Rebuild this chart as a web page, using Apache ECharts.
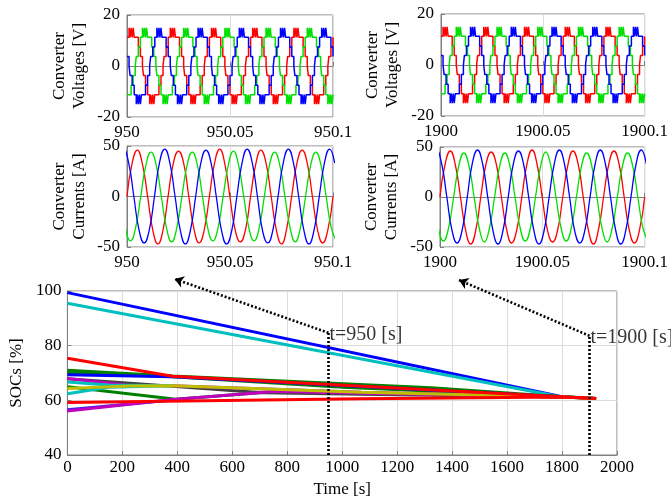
<!DOCTYPE html>
<html>
<head>
<meta charset="utf-8">
<script src="https://cdn.jsdelivr.net/npm/echarts@6/dist/echarts.min.js"></script>
<style>
  html, body { margin: 0; padding: 0; background: #fff; }
  #chart { width: 671px; height: 499px; }
</style>
</head>
<body>
<div id="chart"></div>
<script>
// Zoom windows (start time of each 0.1 s snapshot, seconds)
const windowStarts = [950, 1900];

// Converter phase voltages: level index per 0.5 ms sample (one level = one 3.75 V cell)
const CELL_V = 3.75;
const VOLT_SAMPLE_MS = 0.5;
const voltRed = [
  3,3,4,3,4,
  3,4,3,3,3,3,2,2,1,1,0,-1,-1,-2,-2,-3,-3,-4,-3,-4,-3,-4,-3,-3,-3,-3,-2,-2,-1,-1,0,1,1,2,2,3,3,4,3,4,
  3,4,3,3,3,3,2,2,1,1,0,-1,-1,-2,-2,-3,-3,-4,-3,-4,-3,-4,-3,-3,-3,-3,-2,-2,-1,-1,0,1,1,2,2,3,3,4,3,4,
  3,4,3,3,3,3,2,2,1,1,0,-1,-1,-2,-2,-3,-3,-4,-3,-4,-3,-4,-3,-3,-3,-3,-2,-2,-1,-1,0,1,1,2,2,3,3,4,3,4,
  3,4,3,3,3,3,2,2,1,1,0,-1,-1,-2,-2,-3,-3,-4,-3,-4,-3,-4,-3,-3,-3,-3,-2,-2,-1,-1,0,1,1,2,2,3,3,4,3,4,
  3,4,3,3,3,3,2,2,1,1,0,-1,-1,-2,-2,-3,-3,-4,-3,-4,-3,-4,-3,-3,-3,-3,-2,-2,-1,-1,0,1,1,2,2,
  3
];
const voltGreen = [
  -3,-3,-3,-3,-2,-2,-1,-1,0,1,1,2,2,3,3,4,3,4,
  3,4,3,3,3,3,2,2,1,1,0,-1,-1,-2,-2,-3,-3,-4,-3,-4,-3,-4,-3,-3,-3,-3,-2,-2,-1,-1,0,1,1,2,2,3,3,4,3,4,
  3,4,3,3,3,3,2,2,1,1,0,-1,-1,-2,-2,-3,-3,-4,-3,-4,-3,-4,-3,-3,-3,-3,-2,-2,-1,-1,0,1,1,2,2,3,3,4,3,4,
  3,4,3,3,3,3,2,2,1,1,0,-1,-1,-2,-2,-3,-3,-4,-3,-4,-3,-4,-3,-3,-3,-3,-2,-2,-1,-1,0,1,1,2,2,3,3,4,3,4,
  3,4,3,3,3,3,2,2,1,1,0,-1,-1,-2,-2,-3,-3,-4,-3,-4,-3,-4,-3,-3,-3,-3,-2,-2,-1,-1,0,1,1,2,2,3,3,4,3,4,
  3,4,3,3,3,3,2,2,1,1,0,-1,-1,-2,-2,-3,-3,-4,-3,-4,-3,-4,
  -3
];
const voltBlue = [
  1,1,0,-1,-1,-2,-2,-3,-3,-4,-3,-4,-3,-4,-3,-3,-3,-3,-2,-2,-1,-1,0,1,1,2,2,3,3,4,3,4,
  3,4,3,3,3,3,2,2,1,1,0,-1,-1,-2,-2,-3,-3,-4,-3,-4,-3,-4,-3,-3,-3,-3,-2,-2,-1,-1,0,1,1,2,2,3,3,4,3,4,
  3,4,3,3,3,3,2,2,1,1,0,-1,-1,-2,-2,-3,-3,-4,-3,-4,-3,-4,-3,-3,-3,-3,-2,-2,-1,-1,0,1,1,2,2,3,3,4,3,4,
  3,4,3,3,3,3,2,2,1,1,0,-1,-1,-2,-2,-3,-3,-4,-3,-4,-3,-4,-3,-3,-3,-3,-2,-2,-1,-1,0,1,1,2,2,3,3,4,3,4,
  3,4,3,3,3,3,2,2,1,1,0,-1,-1,-2,-2,-3,-3,-4,-3,-4,-3,-4,-3,-3,-3,-3,-2,-2,-1,-1,0,1,1,2,2,3,3,4,3,4,
  3,4,3,3,3,3,2,2,
  1
];

// Converter phase currents [A], sampled every 2.5 ms from each phase's first sample time (ms)
const CUR_SAMPLE_MS = 2.5;
const curRedStartMs = 0;
const curRed = [
  0,33,46,32,0,-33,-47,-33, 1,33,45,33,0,-32,-46,-33, 0,33,47,32,-1,-33,-45,-33,
  0,32,46,33,0,-33,-47,-32, 1,33,46,33,0,-33,-46,-33, 0
];
const curGreenStartMs = -3.33;
const curGreen = [
  0,-31,-44,-31,0,31,44,31, 0,-31,-45,-31,0,31,44,31, 0,-31,-44,-31,0,31,45,31,
  0,-31,-44,-31,0,31,44,31, 0,-31,-45,-31,0,31,44,31, 0,-31,-44
];
const curBlueStartMs = -6.67;
const curBlue = [
  0,33,47,33,0,-33,-46,-33, 0,34,47,33,0,-33,-47,-33, 0,33,46,33,0,-33,-47,-34,
  0,33,47,33,0,-34,-46,-33, 0,33,47,33,0,-33,-47,-33, 0,33,47,33
];

// Battery state of charge [%] over time [s]
const socBlue    = [[0,99.4],[1800,61.3],[1924,60.7]];
const socCyan    = [[0,95.5],[1790,61.4],[1924,60.7]];
const socGray    = [[0,67.9],[710,62.8],[1070,62.2],[1800,61.2],[1924,60.7]];
const socGreenA  = [[0,71.0],[383,68.9],[1324,64.6],[1800,61.3],[1924,60.7]];
const socGreenB  = [[0,70.2],[383,68.6],[1000,64.8],[1800,61.3]];
const socBlueB   = [[0,69.4],[383,68.6],[1800,61.3]];
const socGreenC  = [[0,65.0],[394,60.4],[756,63.2],[1070,62.6],[1800,61.2]];
const socViolet  = [[0,56.6],[383,60.1]];
const socMagentaB= [[0,56.1],[394,60.4],[756,63.2],[1070,62.6],[1800,61.2]];
const socMagentaA= [[0,68.0],[220,65.5],[383,65.3],[1070,63.0],[1800,61.2]];
const socCyanB   = [[0,66.7],[150,65.6],[383,65.3]];
const socCyanC   = [[0,62.4],[150,64.8],[383,65.3]];
const socYellow  = [[0,64.3],[227,65.2],[383,65.3],[1070,63.0],[1800,61.2],[1924,60.7]];
const socRedA    = [[0,75.4],[383,68.8],[1800,61.3],[1924,60.7]];
const socRedB    = [[0,59.2],[1070,60.6],[1800,61.2],[1924,60.7]];

// Snapshot markers on the SOC plot: [time, SOC] of the marker top and arrow tip
const markTimes = [950, 1900];
const markTops = [84.7, 83.6];
const arrowTips = [[390, 104.4], [1425, 104.0]];
const markLabels = ['t=950 [s]', 't=1900 [s]'];

const FONT = 'Liberation Serif';
const txt = { fontFamily: FONT, fontSize: 17, color: '#000' };
const boxColor = '#7f7f7f';
const gridColor = '#dcdcdc';

function timeSeries(values, startMs, stepMs, t0, scale) {
  return values.map((v, i) => [t0 + (startMs + i * stepMs) / 1000, v * scale]);
}

const grids = [
  { left: 127, top: 15, width: 206, height: 102 },
  { left: 441, top: 14, width: 205, height: 102 },
  { left: 127, top: 146, width: 206, height: 101 },
  { left: 440, top: 147, width: 206, height: 100 },
  { left: 64, top: 291, width: 553, height: 165 }
].map(g => Object.assign({ show: true, borderColor: boxColor, borderWidth: 1, backgroundColor: '#fff' }, g));

function xAxisFor(gridIndex, t0) {
  return {
    type: 'value', gridIndex, min: t0, max: t0 + 0.1, interval: 0.05,
    axisLine: { show: true, lineStyle: { color: boxColor } },
    axisTick: { show: true, inside: true, length: 4, lineStyle: { color: boxColor } },
    splitLine: { show: true, lineStyle: { color: gridColor } },
    axisLabel: Object.assign({ margin: 7, showMinLabel: true, showMaxLabel: true,
      formatter: v => String(+v.toFixed(2)) }, txt)
  };
}
function yAxisFor(gridIndex, lim, name, gap) {
  return {
    type: 'value', gridIndex, min: -lim, max: lim, interval: lim,
    name, nameLocation: 'middle', nameGap: gap, nameRotate: 90,
    nameTextStyle: Object.assign({ lineHeight: 20 }, txt),
    axisLine: { show: true, lineStyle: { color: boxColor } },
    axisTick: { show: true, inside: true, length: 4, lineStyle: { color: boxColor } },
    splitLine: { show: true, lineStyle: { color: gridColor } },
    axisLabel: Object.assign({ margin: 7 }, txt)
  };
}

const xAxes = [
  xAxisFor(0, windowStarts[0]), xAxisFor(1, windowStarts[1]),
  xAxisFor(2, windowStarts[0]), xAxisFor(3, windowStarts[1]),
  {
    type: 'value', gridIndex: 4, min: 0, max: 2000, interval: 200,
    name: 'Time [s]', nameLocation: 'middle', nameGap: 26, nameTextStyle: txt,
    axisLine: { show: true, lineStyle: { color: boxColor } },
    axisTick: { show: true, inside: true, length: 4, lineStyle: { color: boxColor } },
    splitLine: { show: true, lineStyle: { color: gridColor } },
    axisLabel: Object.assign({ margin: 4, formatter: v => String(v) }, txt)
  }
];
const yAxes = [
  yAxisFor(0, 20, 'Converter\nVoltages [V]', 37),
  yAxisFor(1, 20, 'Converter\nVoltages [V]', 38),
  yAxisFor(2, 50, 'Converter\nCurrents [A]', 37),
  yAxisFor(3, 50, 'Converter\nCurrents [A]', 38),
  {
    type: 'value', gridIndex: 4, min: 40, max: 100, interval: 20,
    name: 'SOCs [%]', nameLocation: 'middle', nameGap: 36, nameRotate: 90, nameTextStyle: txt,
    axisLine: { show: true, lineStyle: { color: boxColor } },
    axisTick: { show: true, inside: true, length: 4, lineStyle: { color: boxColor } },
    splitLine: { show: true, lineStyle: { color: gridColor } },
    axisLabel: Object.assign({ margin: 6 }, txt)
  }
];

const series = [];
const phaseColors = { red: '#ff0000', green: '#00e000', blue: '#0000ff' };

windowStarts.forEach((t0, w) => {
  [[voltRed, 'red'], [voltGreen, 'green'], [voltBlue, 'blue']].forEach(([vals, c]) => {
    series.push({
      type: 'line', xAxisIndex: w, yAxisIndex: w, step: 'end', showSymbol: false,
      data: timeSeries(vals, 0, VOLT_SAMPLE_MS, t0, CELL_V),
      lineStyle: { color: phaseColors[c], width: 1.5 }, itemStyle: { color: phaseColors[c] }
    });
  });
  [[curRed, curRedStartMs, 'red'], [curGreen, curGreenStartMs, 'green'], [curBlue, curBlueStartMs, 'blue']]
    .forEach(([vals, s, c]) => {
      series.push({
        type: 'line', xAxisIndex: 2 + w, yAxisIndex: 2 + w, smooth: true, showSymbol: false,
        data: timeSeries(vals, s, CUR_SAMPLE_MS, t0, 1),
        lineStyle: { color: phaseColors[c], width: 1.3 }, itemStyle: { color: phaseColors[c] }
      });
    });
});

const socLines = [
  [socBlue, '#0000ff'], [socCyan, '#00bfbf'], [socGray, '#404040'],
  [socGreenA, '#008000'], [socGreenB, '#008000'], [socBlueB, '#0000ff'],
  [socGreenC, '#008000'], [socViolet, '#3a22e6'], [socMagentaB, '#bf00bf'],
  [socMagentaA, '#bf00bf'], [socCyanB, '#00bfbf'], [socCyanC, '#00bfbf'],
  [socYellow, '#bfbf00'], [socRedA, '#ff0000'], [socRedB, '#ff0000']
];
socLines.forEach(([d, c]) => {
  series.push({
    type: 'line', xAxisIndex: 4, yAxisIndex: 4, showSymbol: false, data: d,
    lineStyle: { color: c, width: 3 }, itemStyle: { color: c }
  });
});

// Snapshot markers: dotted vertical drop lines and dotted arrows toward the zoomed plots
const dotted = { color: '#000', width: 2.6, type: [2, 2], opacity: 1 };
series.push({
  type: 'lines', coordinateSystem: 'cartesian2d', xAxisIndex: 4, yAxisIndex: 4,
  clip: false, symbol: 'none', lineStyle: dotted, z: 5,
  data: markTimes.map((t, i) => ({ coords: [[t, 40], [t, markTops[i]]] }))
});
series.push({
  type: 'lines', coordinateSystem: 'cartesian2d', xAxisIndex: 4, yAxisIndex: 4,
  clip: false, symbol: ['none', 'arrow'], symbolSize: 9, lineStyle: dotted, z: 5,
  data: markTimes.map((t, i) => ({ coords: [[t, markTops[i]], arrowTips[i]] }))
});
series.push({
  type: 'scatter', xAxisIndex: 4, yAxisIndex: 4, symbolSize: 0, z: 6,
  data: markTimes.map((t, i) => ({
    value: [t, markTops[i] - 0.8],
    label: { show: true, position: 'right', distance: 1, formatter: markLabels[i] }
  })),
  label: Object.assign({}, txt, { fontSize: 20 })
});

const chart = echarts.init(document.getElementById('chart'), null, { renderer: 'canvas' });
chart.setOption({
  animation: false,
  backgroundColor: '#fff',
  grid: grids,
  xAxis: xAxes,
  yAxis: yAxes,
  series
});
</script>
</body>
</html>
